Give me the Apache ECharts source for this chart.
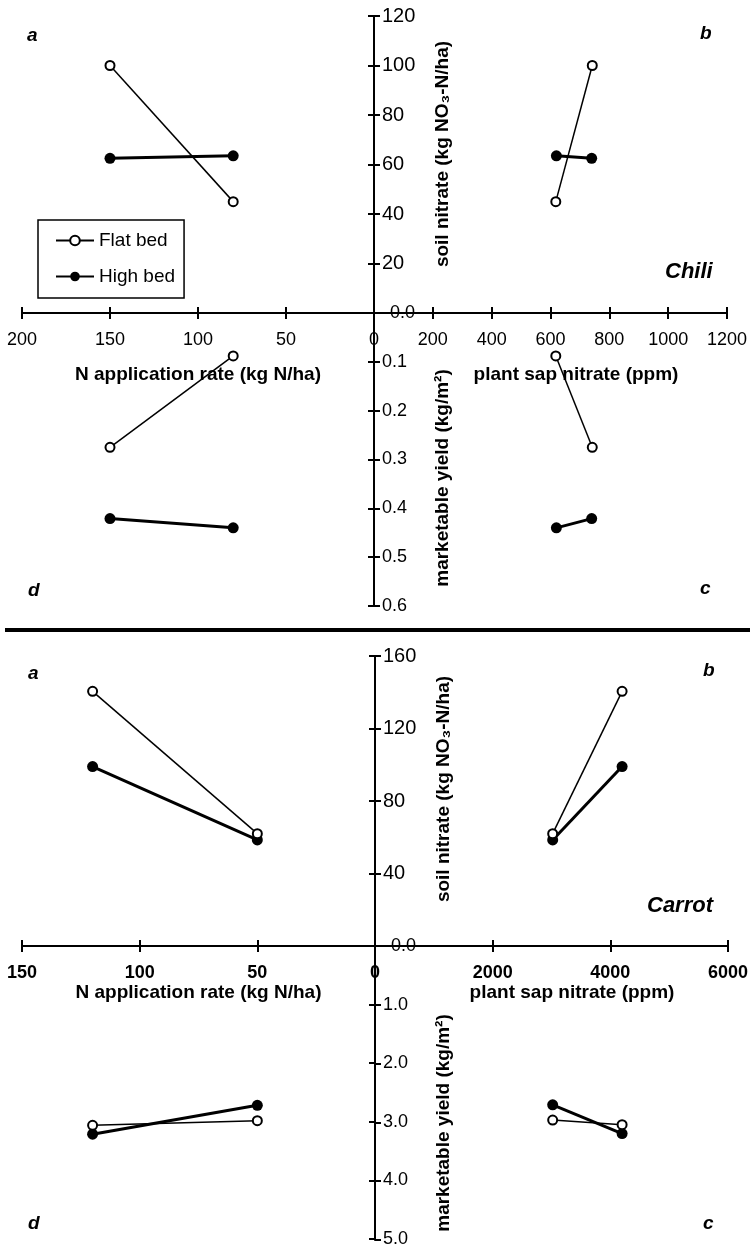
<!DOCTYPE html>
<html>
<head>
<meta charset="utf-8">
<title>Chili / Carrot nitrate quadrant chart</title>
<script src="https://cdn.jsdelivr.net/npm/echarts@6/dist/echarts.min.js"></script>
<style>
    html, body { margin: 0; padding: 0; background: #fff; }
    #chart { width: 753px; height: 1248px; }
</style>
</head>
<body>
<div id="chart"></div>
<script>
// ---- chili data (first value = 150 kg N/ha, second = 80 kg N/ha)
var chiliN = [150, 80];
var chiliSoilFlat = [100, 45];
var chiliSoilHigh = [62.5, 63.5];
var chiliSapFlat = [742, 618];
var chiliSapHigh = [740, 620];
var chiliYieldFlat = [0.275, 0.088];
var chiliYieldHigh = [0.421, 0.44];

// ---- carrot data (first value = 120 kg N/ha, second = 50 kg N/ha)
var carrotN = [120, 50];
var carrotSoilFlat = [140.5, 62];
var carrotSoilHigh = [99, 58.5];
var carrotSapFlat = [4200, 3020];
var carrotSapHigh = [4200, 3020];
var carrotYieldFlat = [3.05, 2.97];
var carrotYieldHigh = [3.2, 2.71];

// ---- tick labels
var chiliNTicks = [0, 50, 100, 150, 200];
var chiliSapTicks = [0, 200, 400, 600, 800, 1000, 1200];
var chiliSoilTicks = [0, 20, 40, 60, 80, 100, 120];
var chiliYieldTicks = [0, 0.1, 0.2, 0.3, 0.4, 0.5, 0.6];
var carrotNTicks = [0, 50, 100, 150];
var carrotSapTicks = [0, 2000, 4000, 6000];
var carrotSoilTicks = [0, 40, 80, 120, 160];
var carrotYieldTicks = [0, 1, 2, 3, 4, 5];

var FONT = 'Liberation Sans, Arial, Helvetica, sans-serif';

var option = {
    animation: false,
    backgroundColor: '#fff',
    textStyle: {fontFamily: FONT, color: '#000'},
    grid: [],
    xAxis: [],
    yAxis: [],
    series: [],
    graphic: [],
    legend: {
        data: ['Flat bed', 'High bed'],
        orient: 'vertical',
        left: 38,
        top: 220,
        itemWidth: 38,
        itemHeight: 12,
        itemGap: 17,
        padding: [11, 9, 12, 17],
        borderColor: '#000',
        borderWidth: 1.5,
        selectedMode: false,
        textStyle: {fontSize: 19, color: '#000', fontFamily: FONT}
    }
};

function baseAxis(ticks) {
    return {
        type: 'value',
        min: ticks[0],
        max: ticks[ticks.length - 1],
        interval: ticks[1] - ticks[0],
        splitLine: {show: false},
        axisLine: {show: true, onZero: false, lineStyle: {color: '#000', width: 2}},
        axisTick: {show: true, length: 6, lineStyle: {color: '#000', width: 2}},
        axisLabel: {show: false}
    };
}

function addLine(name, axisIdx, xs, ys) {
    var pts = [];
    for (var i = 0; i < xs.length; i++) {
        pts.push([xs[i], ys[i]]);
    }
    var flat = name === 'Flat bed';
    option.series.push({
        name: name,
        type: 'line',
        xAxisIndex: axisIdx,
        yAxisIndex: axisIdx,
        data: pts,
        symbol: flat ? 'emptyCircle' : 'circle',
        symbolSize: flat ? 9 : 11,
        lineStyle: {color: '#000', width: flat ? 1.5 : 3},
        itemStyle: {color: '#000', borderColor: '#000', borderWidth: flat ? 1.5 : 0},
        z: flat ? 3 : 2
    });
}

function plain(v) {
    return String(v);
}

function addPanel(p) {
    var g = option.grid.length;
    var left = 22;
    option.grid.push(
        {left: left, top: p.top, width: p.cx - left, height: p.cy - p.top},
        {left: p.cx, top: p.top, width: p.right - p.cx, height: p.cy - p.top},
        {left: p.cx, top: p.cy, width: p.right - p.cx, height: p.bottom - p.cy},
        {left: left, top: p.cy, width: p.cx - left, height: p.bottom - p.cy}
    );

    var xLabel = {show: true, fontSize: 18, margin: 18, color: '#000', fontWeight: p.xBold ? 'bold' : 'normal',
        showMinLabel: true, showMaxLabel: true};
    var yLabel = {show: true, inside: true, fontSize: 18, margin: 8, color: '#000',
        showMinLabel: true, showMaxLabel: true};
    var nameStyle = {fontSize: 19, fontWeight: 'bold', color: '#000', fontFamily: FONT};

    // a: N rate vs soil nitrate (top left)
    var xa = baseAxis(p.nTicks);
    xa.gridIndex = g; xa.inverse = true; xa.position = 'bottom';
    xa.axisLabel = Object.assign({}, xLabel, {formatter: function (v) { return v === 0 ? '' : String(v); }});
    xa.name = 'N application rate (kg N/ha)';
    xa.nameLocation = 'middle';
    xa.nameGap = p.nameGap;
    xa.nameTextStyle = nameStyle;
    var ya = baseAxis(p.soilTicks);
    ya.gridIndex = g; ya.position = 'right';

    // b: plant sap vs soil nitrate (top right)
    var xb = baseAxis(p.sapTicks);
    xb.gridIndex = g + 1; xb.position = 'bottom';
    xb.axisLabel = Object.assign({}, xLabel, {formatter: plain});
    xb.name = 'plant sap nitrate (ppm)';
    xb.nameLocation = 'middle';
    xb.nameGap = p.nameGap;
    xb.nameTextStyle = Object.assign({}, nameStyle, {padding: [0, 0, 0, p.sapNameShift * 2]});
    var yb = baseAxis(p.soilTicks);
    yb.gridIndex = g + 1; yb.position = 'left';
    yb.axisLabel = Object.assign({}, yLabel, {
        fontSize: 20,
        formatter: function (v) { return v === 0 ? '{z|0.0}' : String(v); },
        rich: {z: {fontSize: 18, padding: [0, 0, 0, 8]}}
    });

    // c: plant sap vs yield (bottom right)
    var xc = baseAxis(p.sapTicks);
    xc.gridIndex = g + 2; xc.position = 'top';
    var yc = baseAxis(p.yieldTicks);
    yc.gridIndex = g + 2; yc.position = 'left'; yc.inverse = true;
    yc.axisLabel = Object.assign({}, yLabel, {
        formatter: function (v) { return v === 0 ? '' : v.toFixed(1); }
    });

    // d: N rate vs yield (bottom left)
    var xd = baseAxis(p.nTicks);
    xd.gridIndex = g + 3; xd.inverse = true; xd.position = 'top';
    var yd = baseAxis(p.yieldTicks);
    yd.gridIndex = g + 3; yd.position = 'right'; yd.inverse = true;

    option.xAxis.push(xa, xb, xc, xd);
    option.yAxis.push(ya, yb, yc, yd);

    addLine('Flat bed', g, p.n, p.soilFlat);
    addLine('High bed', g, p.n, p.soilHigh);
    addLine('Flat bed', g + 1, p.sapFlat, p.soilFlat);
    addLine('High bed', g + 1, p.sapHigh, p.soilHigh);
    addLine('Flat bed', g + 2, p.sapFlat, p.yieldFlat);
    addLine('High bed', g + 2, p.sapHigh, p.yieldHigh);
    addLine('Flat bed', g + 3, p.n, p.yieldFlat);
    addLine('High bed', g + 3, p.n, p.yieldHigh);

    // quadrant letters, crop name, vertical axis titles
    var letterFont = 'italic bold 19px ' + FONT;
    var L = p.letters;
    for (var i = 0; i < L.length; i++) {
        option.graphic.push({
            type: 'text', x: L[i][1], y: L[i][2],
            style: {text: L[i][0], font: letterFont, fill: '#000', textVerticalAlign: 'middle'}
        });
    }
    option.graphic.push({
        type: 'text', x: p.crop[1], y: p.crop[2],
        style: {text: p.crop[0], font: 'italic bold 22px ' + FONT, fill: '#000', textVerticalAlign: 'middle'}
    });
    option.graphic.push({
        type: 'text', x: p.titleX, y: p.soilTitleY, rotation: Math.PI / 2,
        style: {text: 'soil nitrate (kg NO\u2083-N/ha)', font: 'bold 19px ' + FONT, fill: '#000',
            textAlign: 'center', textVerticalAlign: 'middle'}
    });
    option.graphic.push({
        type: 'text', x: p.titleX, y: p.yieldTitleY, rotation: Math.PI / 2,
        style: {text: 'marketable yield (kg/m\u00b2)', font: 'bold 19px ' + FONT, fill: '#000',
            textAlign: 'center', textVerticalAlign: 'middle'}
    });
}

addPanel({
    top: 16, cy: 313, bottom: 606, cx: 374, right: 727,
    nTicks: chiliNTicks, sapTicks: chiliSapTicks, soilTicks: chiliSoilTicks, yieldTicks: chiliYieldTicks,
    n: chiliN, soilFlat: chiliSoilFlat, soilHigh: chiliSoilHigh,
    sapFlat: chiliSapFlat, sapHigh: chiliSapHigh, yieldFlat: chiliYieldFlat, yieldHigh: chiliYieldHigh,
    nameGap: 52, sapNameShift: 25.5, xBold: false,
    letters: [['a', 27, 36], ['b', 700, 34], ['c', 700, 589], ['d', 28, 591]],
    crop: ['Chili', 665, 272],
    titleX: 443, soilTitleY: 154, yieldTitleY: 478
});

addPanel({
    top: 656, cy: 946, bottom: 1240, cx: 375, right: 728,
    nTicks: carrotNTicks, sapTicks: carrotSapTicks, soilTicks: carrotSoilTicks, yieldTicks: carrotYieldTicks,
    n: carrotN, soilFlat: carrotSoilFlat, soilHigh: carrotSoilHigh,
    sapFlat: carrotSapFlat, sapHigh: carrotSapHigh, yieldFlat: carrotYieldFlat, yieldHigh: carrotYieldHigh,
    nameGap: 36, sapNameShift: 20.5, xBold: true,
    letters: [['a', 28, 674], ['b', 703, 671], ['c', 703, 1224], ['d', 28, 1224]],
    crop: ['Carrot', 647, 906],
    titleX: 444, soilTitleY: 789, yieldTitleY: 1123
});

// heavy rule between the two crops
option.graphic.push({
    type: 'line',
    shape: {x1: 5, y1: 630, x2: 750, y2: 630},
    style: {stroke: '#000', lineWidth: 4}
});

var myChart = echarts.init(document.getElementById('chart'), null, {renderer: 'canvas'});
myChart.setOption(option);
</script>
</body>
</html>
